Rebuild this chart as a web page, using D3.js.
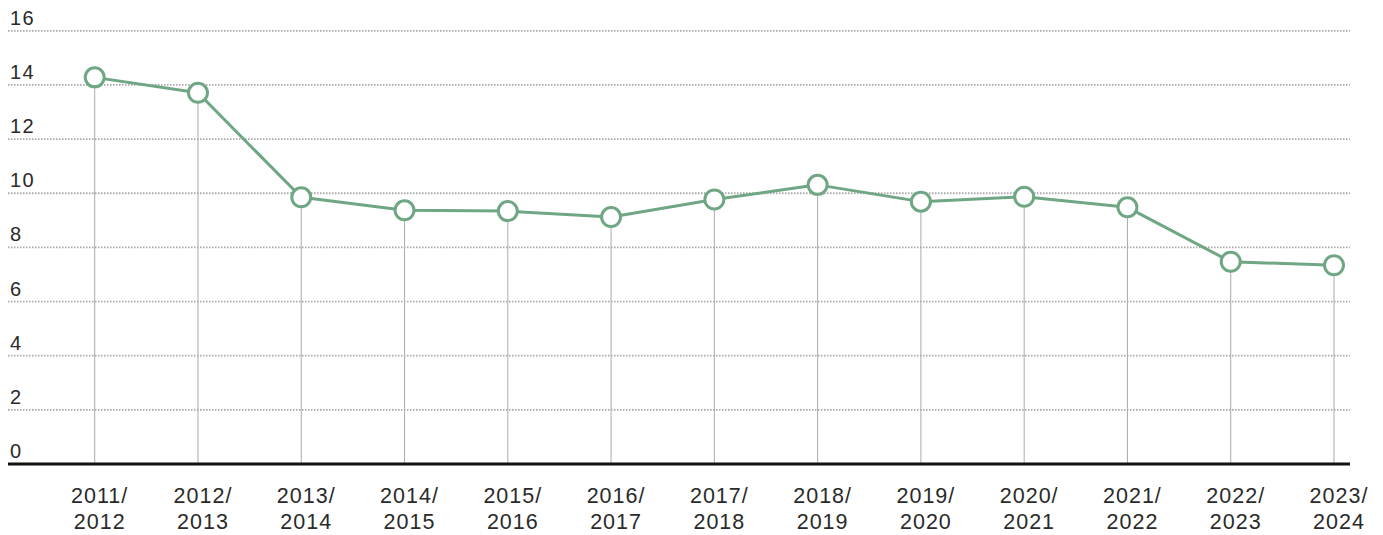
<!DOCTYPE html>
<html>
<head>
<meta charset="utf-8">
<script src="https://cdn.jsdelivr.net/npm/d3@7"></script>
<style>
  html, body { margin: 0; padding: 0; background: #fff; }
  svg { display: block; }
  text { font-family: "Liberation Sans", Arial, Helvetica, sans-serif; fill: #2a2a2a; }
</style>
</head>
<body>
<svg id="chart" width="1383" height="535"></svg>
<script>
// School years shown along the bottom
const periods = ["2011/2012", "2012/2013", "2013/2014", "2014/2015", "2015/2016", "2016/2017",
  "2017/2018", "2018/2019", "2019/2020", "2020/2021", "2021/2022", "2022/2023", "2023/2024"];
// Value for each school year
const values = [14.28, 13.71, 9.85, 9.37, 9.34, 9.12, 9.77, 10.31, 9.69, 9.87, 9.48, 7.47, 7.34];
// Gridline / tick values on the vertical axis
const yTicks = [0, 2, 4, 6, 8, 10, 12, 14, 16];

const svg = d3.select("#chart");
const lineColor = "#6fa684";

const x = d3.scalePoint().domain(periods).range([94.7, 1334]);
const y = d3.scaleLinear().domain([0, 16]).range([464, 30.8]);

const gridLeft = 8, gridRight = 1350;

// Dotted horizontal gridlines (except zero, which is the solid baseline)
svg.append("g").selectAll("line")
  .data(yTicks.filter(d => d !== 0))
  .join("line")
  .attr("x1", gridLeft).attr("x2", gridRight)
  .attr("y1", d => y(d)).attr("y2", d => y(d))
  .attr("stroke", "#a8a8a8")
  .attr("stroke-width", 1.8)
  .attr("stroke-dasharray", "1.5,1.5");

// Y tick labels sit above their gridline at the left edge
svg.append("g").selectAll("text")
  .data(yTicks)
  .join("text")
  .attr("x", 10)
  .attr("y", d => y(d) - 6)
  .attr("font-size", 20)
  .attr("letter-spacing", 1.5)
  .text(d => d);

// Thin vertical drop lines from each point to the baseline
svg.append("g").selectAll("line")
  .data(values)
  .join("line")
  .attr("x1", (d, i) => x(periods[i])).attr("x2", (d, i) => x(periods[i]))
  .attr("y1", d => y(d)).attr("y2", y(0))
  .attr("stroke", "#ababab")
  .attr("stroke-width", 1);

// Solid baseline at zero
svg.append("line")
  .attr("x1", gridLeft).attr("x2", gridRight)
  .attr("y1", y(0)).attr("y2", y(0))
  .attr("stroke", "#111")
  .attr("stroke-width", 3);

// Series line
const line = d3.line()
  .x((d, i) => x(periods[i]))
  .y(d => y(d));

svg.append("path")
  .datum(values)
  .attr("d", line)
  .attr("fill", "none")
  .attr("stroke", lineColor)
  .attr("stroke-width", 3)
  .attr("stroke-linejoin", "round");

// Hollow markers
svg.append("g").selectAll("circle")
  .data(values)
  .join("circle")
  .attr("cx", (d, i) => x(periods[i]))
  .attr("cy", d => y(d))
  .attr("r", 9.5)
  .attr("fill", "#fff")
  .attr("stroke", lineColor)
  .attr("stroke-width", 3);

// Two-line category labels
const xl = svg.append("g").selectAll("text")
  .data(periods)
  .join("text")
  .attr("text-anchor", "middle")
  .attr("font-size", 21.5)
  .attr("letter-spacing", 1);
xl.append("tspan")
  .attr("x", d => x(d) + 5)
  .attr("y", 503)
  .text(d => d.split("/")[0] + "/");
xl.append("tspan")
  .attr("x", d => x(d) + 5)
  .attr("y", 529)
  .text(d => d.split("/")[1]);
</script>
</body>
</html>
